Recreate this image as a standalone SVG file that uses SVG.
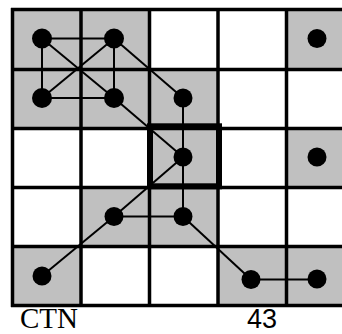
<svg xmlns="http://www.w3.org/2000/svg" width="342" height="334" viewBox="0 0 342 334">
<style>
.cell{fill:#c0c0c0;stroke:none}
.grid line{stroke:#000;stroke-width:3.5}
.edges line{stroke:#000;stroke-width:2}
.node circle{fill:#000}
.serif{font-family:"Liberation Serif","Times New Roman",serif;font-size:29px;fill:#000}
.sans{font-family:"Liberation Sans",Arial,sans-serif;font-size:27px;fill:#000}
</style>
<rect width="342" height="334" fill="#fff"/>
<g id="cells">
<rect class="cell" x="12.5" y="9.5" width="68.5" height="59"/>
<rect class="cell" x="81" y="9.5" width="68.5" height="59"/>
<rect class="cell" x="286.5" y="9.5" width="68.5" height="59"/>
<rect class="cell" x="12.5" y="68.5" width="68.5" height="59"/>
<rect class="cell" x="81" y="68.5" width="68.5" height="59"/>
<rect class="cell" x="149.5" y="68.5" width="68.5" height="59"/>
<rect class="cell" x="149.5" y="127.5" width="68.5" height="59"/>
<rect class="cell" x="286.5" y="127.5" width="68.5" height="59"/>
<rect class="cell" x="81" y="186.5" width="68.5" height="59"/>
<rect class="cell" x="149.5" y="186.5" width="68.5" height="59"/>
<rect class="cell" x="12.5" y="245.5" width="68.5" height="60"/>
<rect class="cell" x="218" y="245.5" width="68.5" height="60"/>
<rect class="cell" x="286.5" y="245.5" width="68.5" height="60"/>
</g>
<g id="grid" class="grid">
<line x1="12.5" y1="8" x2="12.5" y2="307"/>
<line x1="81" y1="8" x2="81" y2="307"/>
<line x1="149.5" y1="8" x2="149.5" y2="307"/>
<line x1="218" y1="8" x2="218" y2="307"/>
<line x1="286.5" y1="8" x2="286.5" y2="307"/>
<line x1="11" y1="9.5" x2="342" y2="9.5"/>
<line x1="11" y1="69.5" x2="342" y2="69.5"/>
<line x1="11" y1="128.5" x2="342" y2="128.5"/>
<line x1="11" y1="187.5" x2="342" y2="187.5"/>
<line x1="11" y1="246.5" x2="342" y2="246.5"/>
<line x1="11" y1="305.5" x2="342" y2="305.5"/>
</g>
<g id="focus">
<rect x="150" y="126.3" width="69" height="60" fill="none" stroke="#000" stroke-width="6"/>
</g>
<g id="connectors" class="edges">
<line x1="42" y1="38.5" x2="114" y2="38.5"/>
<line x1="42" y1="38.5" x2="42" y2="98"/>
<line x1="42" y1="38.5" x2="114" y2="98"/>
<line x1="114" y1="38.5" x2="42" y2="98"/>
<line x1="114" y1="38.5" x2="114" y2="98"/>
<line x1="42" y1="98" x2="114" y2="98"/>
<line x1="114" y1="38.5" x2="183" y2="98"/>
<line x1="114" y1="98" x2="183" y2="157"/>
<line x1="183" y1="98" x2="183" y2="157"/>
<line x1="183" y1="157" x2="183" y2="216.5"/>
<line x1="183" y1="157" x2="114" y2="216.5"/>
<line x1="114" y1="216.5" x2="42" y2="276"/>
<line x1="114" y1="216.5" x2="183" y2="216.5"/>
<line x1="183" y1="216.5" x2="251" y2="279.5"/>
<line x1="251" y1="279.5" x2="317" y2="279.5"/>
</g>
<g id="n1" class="node"><circle cx="42" cy="38.5" r="10"/></g>
<g id="n2" class="node"><circle cx="114" cy="38.5" r="10"/></g>
<g id="n3" class="node"><circle cx="317" cy="38.5" r="9.5"/></g>
<g id="n4" class="node"><circle cx="42" cy="98" r="10"/></g>
<g id="n5" class="node"><circle cx="114" cy="98" r="10"/></g>
<g id="n6" class="node"><circle cx="183" cy="98" r="9.5"/></g>
<g id="n7" class="node"><circle cx="183" cy="157" r="9.5"/></g>
<g id="n8" class="node"><circle cx="317" cy="157" r="9.5"/></g>
<g id="n9" class="node"><circle cx="114" cy="216.5" r="9.5"/></g>
<g id="n10" class="node"><circle cx="183" cy="216.5" r="9.5"/></g>
<g id="n11" class="node"><circle cx="42" cy="276" r="9.5"/></g>
<g id="n12" class="node"><circle cx="251" cy="279.5" r="9.5"/></g>
<g id="n13" class="node"><circle cx="317" cy="279" r="9.5"/></g>
<text class="serif" x="20" y="327.5">CTN</text>
<text class="sans" x="247" y="327.5">43</text>
</svg>
